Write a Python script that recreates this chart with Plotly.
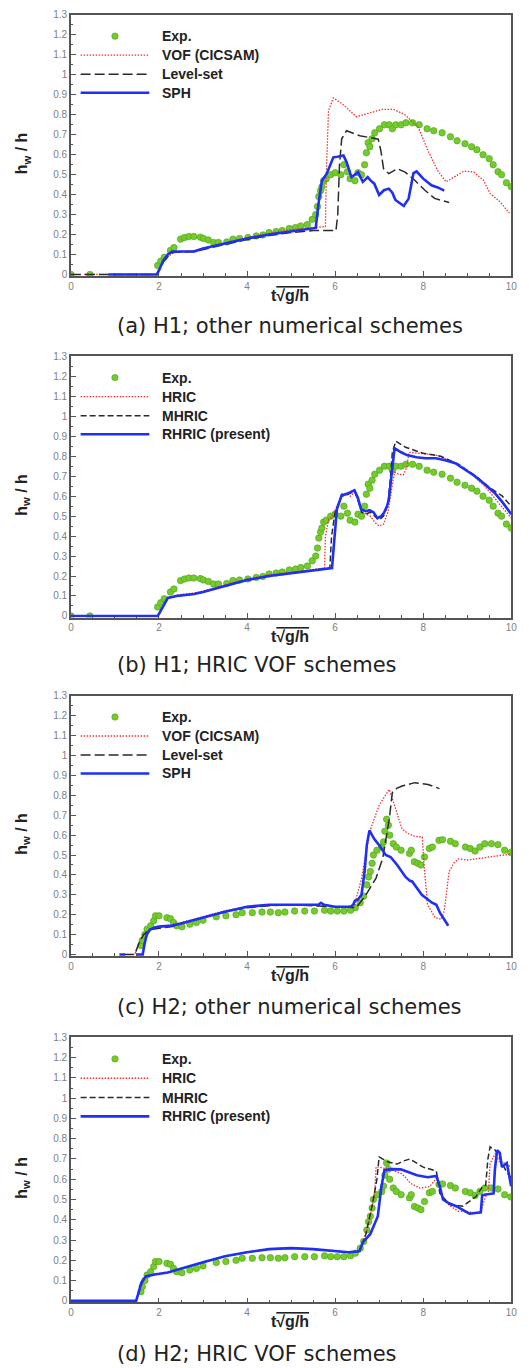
import plotly.graph_objects as go

# ---- experiment (H1 / H2) ----
t_exp_h1 = [0.0, 0.43, 1.97, 2.04, 2.12, 2.26, 2.34, 2.49, 2.58, 2.68, 2.79, 2.94, 3.01, 3.12, 3.24, 3.35,
            3.54, 3.68, 3.83, 4.02, 4.21, 4.36, 4.5, 4.66, 4.8, 4.96, 5.1, 5.22, 5.37, 5.48, 5.56, 5.6,
            5.63, 5.67, 5.7, 5.74, 5.8, 5.9, 6.0, 6.13, 6.2, 6.28, 6.34, 6.45, 6.52, 6.6, 6.67, 6.71,
            6.75, 6.79, 6.84, 6.9, 7.01, 7.12, 7.23, 7.3, 7.38, 7.5, 7.61, 7.76, 7.91, 8.09, 8.24, 8.43,
            8.62, 8.77, 8.95, 9.1, 9.22, 9.36, 9.5, 9.59, 9.7, 9.78, 9.89, 10.0]
h_exp_h1 = [0.0, 0.0, 0.045, 0.066, 0.086, 0.12, 0.135, 0.177, 0.185, 0.19, 0.19, 0.187, 0.18, 0.173, 0.16, 0.16,
            0.163, 0.177, 0.18, 0.185, 0.193, 0.198, 0.21, 0.215, 0.22, 0.23, 0.235, 0.243, 0.25, 0.276, 0.3, 0.34,
            0.39, 0.42, 0.44, 0.47, 0.48, 0.5, 0.51, 0.5, 0.55, 0.515, 0.48, 0.47, 0.51, 0.5, 0.55, 0.61,
            0.66, 0.64, 0.68, 0.71, 0.73, 0.75, 0.75, 0.73, 0.75, 0.75, 0.76, 0.76, 0.75, 0.73, 0.72, 0.71,
            0.69, 0.67, 0.655, 0.64, 0.625, 0.6, 0.58, 0.55, 0.515, 0.5, 0.46, 0.44]

t_exp_h2 = [1.59, 1.62, 1.68, 1.73, 1.81, 1.88, 1.92, 2.0, 2.18, 2.26, 2.33, 2.4, 2.52, 2.7, 2.85, 3.0,
            3.3, 3.52, 3.75, 3.89, 4.12, 4.34, 4.53, 4.71, 4.86, 5.08, 5.31, 5.53, 5.76, 5.9, 6.05, 6.2,
            6.35, 6.46, 6.57, 6.65, 6.72, 6.76, 6.8, 6.84, 6.87, 6.95, 7.06, 7.1, 7.13, 7.17, 7.21, 7.24,
            7.32, 7.39, 7.5, 7.69, 7.73, 7.8, 7.88, 7.95, 8.03, 8.14, 8.21, 8.36, 8.44, 8.62, 8.73, 8.96,
            9.07, 9.18, 9.29, 9.4, 9.55, 9.7, 9.85, 9.99]
h_exp_h2 = [0.045, 0.07, 0.1, 0.127, 0.144, 0.169, 0.194, 0.194, 0.185, 0.18, 0.16, 0.144, 0.139, 0.152, 0.16, 0.172,
            0.189, 0.194, 0.2, 0.21, 0.21, 0.213, 0.213, 0.21, 0.213, 0.218, 0.218, 0.218, 0.222, 0.218, 0.218, 0.218,
            0.222, 0.235, 0.26, 0.293, 0.35, 0.39, 0.417, 0.458, 0.5, 0.524, 0.54, 0.566, 0.62, 0.68, 0.65, 0.6,
            0.557, 0.54, 0.524, 0.508, 0.524, 0.466, 0.458, 0.45, 0.49, 0.533, 0.54, 0.574, 0.577, 0.569, 0.557, 0.54,
            0.533, 0.52, 0.54, 0.557, 0.557, 0.552, 0.524, 0.513]

# ---- (a) H1, other schemes ----
t_vof_a = [0.3, 1.95, 2.05, 2.2, 2.35, 2.8, 3.5, 4.0, 4.5, 5.0, 5.5, 5.78, 5.8, 5.85, 5.96, 6.19,
           6.48, 6.78, 7.07, 7.33, 7.59, 7.89, 8.11, 8.33, 8.52, 8.7, 8.93, 9.15, 9.37, 9.52, 9.74, 9.96]
h_vof_a = [0, 0, 0.05, 0.09, 0.11, 0.12, 0.158, 0.185, 0.205, 0.225, 0.235, 0.24, 0.5, 0.82, 0.885, 0.85,
           0.79, 0.81, 0.827, 0.827, 0.80, 0.736, 0.62, 0.52, 0.464, 0.488, 0.518, 0.513, 0.472, 0.406, 0.365, 0.307]
t_ls_a = [0.0, 1.95, 2.05, 2.2, 2.3, 2.8, 3.5, 4.0, 4.5, 5.0, 5.5, 6.02, 6.06, 6.1, 6.15, 6.26,
          6.56, 6.81, 6.98, 7.04, 7.1, 7.22, 7.41, 7.59, 7.81, 8.04, 8.26, 8.59]
h_ls_a = [0, 0, 0.05, 0.09, 0.11, 0.115, 0.15, 0.175, 0.195, 0.21, 0.22, 0.22, 0.3, 0.55, 0.68, 0.72,
          0.695, 0.686, 0.678, 0.62, 0.53, 0.505, 0.53, 0.513, 0.472, 0.422, 0.381, 0.361]
t_sph_a = [0.85, 1.95, 2.0, 2.1, 2.2, 2.3, 2.5, 2.8, 3.0, 3.5, 4.0, 4.5, 5.0, 5.3, 5.56, 5.62,
           5.7, 5.81, 5.96, 6.05, 6.19, 6.26, 6.37, 6.45, 6.52, 6.63, 6.74, 6.81, 6.89, 7.0, 7.11, 7.22,
           7.3, 7.37, 7.46, 7.56, 7.67, 7.78, 7.85, 8.0, 8.19, 8.33, 8.48]
h_sph_a = [0, 0, 0.02, 0.07, 0.1, 0.115, 0.115, 0.115, 0.13, 0.155, 0.18, 0.2, 0.215, 0.225, 0.233, 0.35,
           0.47, 0.505, 0.587, 0.59, 0.596, 0.563, 0.488, 0.5, 0.513, 0.464, 0.488, 0.47, 0.455, 0.398, 0.422, 0.43,
           0.41, 0.373, 0.36, 0.343, 0.38, 0.508, 0.516, 0.48, 0.447, 0.436, 0.42]

# ---- (b) H1, HRIC schemes ----
t_hric_b = [0.0, 1.97, 2.0, 2.1, 2.2, 2.4, 2.8, 3.0, 3.5, 4.0, 4.5, 5.0, 5.5, 5.76, 5.78, 5.85,
            5.95, 6.05, 6.15, 6.25, 6.35, 6.44, 6.52, 6.6, 6.7, 6.8, 6.9, 7.0, 7.1, 7.2, 7.28, 7.35,
            7.45, 7.55, 7.62, 7.68, 7.9, 8.3, 8.7, 9.0, 9.4, 9.7, 10.0]
h_hric_b = [0, 0, 0.01, 0.05, 0.09, 0.105, 0.115, 0.125, 0.155, 0.185, 0.205, 0.22, 0.235, 0.24, 0.4, 0.48,
            0.5, 0.56, 0.61, 0.615, 0.6, 0.62, 0.58, 0.53, 0.51, 0.5, 0.47, 0.45, 0.46, 0.52, 0.62, 0.72,
            0.71, 0.707, 0.74, 0.82, 0.815, 0.805, 0.77, 0.73, 0.65, 0.57, 0.49]
t_mhric_b = [0.0, 1.97, 2.0, 2.1, 2.2, 2.4, 2.8, 3.0, 3.5, 4.0, 4.5, 5.0, 5.5, 5.88, 5.92, 6.0,
             6.15, 6.25, 6.35, 6.44, 6.52, 6.6, 6.7, 6.8, 6.9, 7.0, 7.1, 7.2, 7.26, 7.3, 7.38, 7.6,
             8.0, 8.4, 8.8, 9.2, 9.5, 9.8, 10.0]
h_mhric_b = [0, 0, 0.01, 0.05, 0.09, 0.1, 0.11, 0.12, 0.15, 0.18, 0.2, 0.215, 0.23, 0.24, 0.4, 0.52,
             0.6, 0.605, 0.615, 0.625, 0.58, 0.52, 0.51, 0.52, 0.5, 0.48, 0.5, 0.56, 0.7, 0.82, 0.875, 0.845,
             0.815, 0.8, 0.76, 0.7, 0.645, 0.6, 0.55]
t_rhric_b = [0.0, 1.97, 2.0, 2.1, 2.2, 2.4, 2.8, 3.0, 3.5, 4.0, 4.5, 5.0, 5.5, 5.93, 5.97, 6.04,
             6.15, 6.25, 6.35, 6.44, 6.52, 6.59, 6.7, 6.78, 6.87, 6.96, 7.05, 7.11, 7.18, 7.22, 7.26, 7.29,
             7.35, 7.5, 7.63, 7.85, 8.05, 8.29, 8.5, 8.73, 8.95, 9.18, 9.4, 9.62, 9.8, 10.0]
h_rhric_b = [0, 0, 0.01, 0.05, 0.09, 0.1, 0.11, 0.12, 0.15, 0.18, 0.2, 0.215, 0.23, 0.24, 0.35, 0.534,
             0.605, 0.61, 0.62, 0.63, 0.59, 0.534, 0.525, 0.53, 0.52, 0.49, 0.5, 0.517, 0.55, 0.583, 0.66, 0.73,
             0.84, 0.82, 0.806, 0.795, 0.79, 0.79, 0.78, 0.765, 0.735, 0.70, 0.66, 0.617, 0.57, 0.51]

# ---- (c) H2, other schemes ----
t_vof_c = [1.2, 1.45, 1.55, 1.65, 1.8, 2.0, 2.3, 2.5, 3.0, 3.5, 4.0, 4.5, 5.0, 5.5, 6.0, 6.3,
           6.45, 6.5, 6.6, 6.78, 7.0, 7.23, 7.35, 7.52, 7.67, 7.8, 7.98, 8.02, 8.1, 8.27, 8.41, 8.48,
           8.59, 8.7, 8.8, 9.01, 9.5, 10.0]
h_vof_c = [0, 0, 0.06, 0.1, 0.13, 0.135, 0.145, 0.16, 0.19, 0.22, 0.24, 0.25, 0.25, 0.25, 0.24, 0.24,
           0.25, 0.3, 0.38, 0.615, 0.75, 0.83, 0.75, 0.63, 0.607, 0.595, 0.59, 0.45, 0.25, 0.185, 0.177, 0.22,
           0.417, 0.46, 0.48, 0.475, 0.49, 0.505]
t_ls_c = [1.2, 1.45, 1.55, 1.65, 1.8, 2.0, 2.3, 2.5, 3.0, 3.5, 4.0, 4.5, 5.0, 5.5, 6.0, 6.3,
          6.48, 6.6, 6.7, 6.93, 7.08, 7.23, 7.3, 7.4, 7.52, 7.81, 8.11, 8.37]
h_ls_c = [0, 0, 0.06, 0.1, 0.125, 0.13, 0.14, 0.155, 0.185, 0.215, 0.235, 0.245, 0.25, 0.245, 0.24, 0.235,
          0.235, 0.27, 0.30, 0.384, 0.483, 0.68, 0.814, 0.835, 0.847, 0.864, 0.855, 0.834]
t_sph_c = [1.1, 1.23, None, 1.5, 1.63, 1.67, 1.72, 1.8, 1.9, 2.0, 2.3, 2.5, 3.0, 3.5, 4.0, 4.5,
           5.0, 5.5, 5.62, 5.68, 5.75, 6.0, 6.35, 6.41, 6.45, 6.52, 6.6, 6.67, 6.72, 6.78, 6.89, 7.0,
           7.15, 7.26, 7.41, 7.6, 7.7, 7.75, 7.97, 8.2, 8.3, 8.38, 8.48, 8.57]
h_sph_c = [0, 0, None, 0, 0, 0.05, 0.1, 0.125, 0.135, 0.14, 0.145, 0.155, 0.185, 0.215, 0.24, 0.25,
           0.25, 0.25, 0.25, 0.26, 0.25, 0.24, 0.24, 0.25, 0.27, 0.276, 0.30, 0.417, 0.55, 0.624, 0.58, 0.55,
           0.50, 0.49, 0.45, 0.39, 0.37, 0.367, 0.30, 0.26, 0.25, 0.21, 0.177, 0.144]

# ---- (d) H2, HRIC schemes ----
t_hric_d = [0.0, 1.48, 1.55, 1.62, 1.7, 1.9, 2.2, 2.5, 3.0, 3.5, 4.0, 4.5, 5.0, 5.5, 6.0, 6.3,
            6.55, 6.7, 6.8, 6.9, 6.93, 7.0, 7.12, 7.3, 7.49, 7.6, 7.71, 7.93, 8.15, 8.33, 8.38, 8.45,
            8.6, 8.8, 9.0, 9.2, 9.3, 9.35, 9.42, 9.48, 9.52, 9.64, 9.75, 9.85, 10.0]
h_hric_d = [0, 0, 0.05, 0.09, 0.12, 0.13, 0.14, 0.16, 0.19, 0.22, 0.24, 0.255, 0.26, 0.255, 0.245, 0.24,
            0.245, 0.33, 0.42, 0.53, 0.66, 0.66, 0.654, 0.645, 0.63, 0.61, 0.58, 0.556, 0.564, 0.613, 0.56, 0.5,
            0.47, 0.442, 0.44, 0.434, 0.437, 0.47, 0.515, 0.53, 0.678, 0.727, 0.678, 0.68, 0.66]
t_mhric_d = [0.0, 1.48, 1.55, 1.62, 1.7, 1.9, 2.2, 2.5, 3.0, 3.5, 4.0, 4.5, 5.0, 5.5, 6.0, 6.3,
             6.55, 6.7, 6.85, 6.95, 7.0, 7.19, 7.41, 7.55, 7.7, 8.0, 8.3, 8.38, 8.6, 8.9, 9.2, 9.35,
             9.42, 9.47, 9.52, 9.64, 9.75, 9.87, 10.0]
h_mhric_d = [0, 0, 0.05, 0.09, 0.12, 0.13, 0.14, 0.16, 0.19, 0.22, 0.24, 0.255, 0.26, 0.255, 0.245, 0.24,
             0.245, 0.33, 0.48, 0.6, 0.71, 0.686, 0.675, 0.69, 0.70, 0.66, 0.64, 0.53, 0.475, 0.467, 0.515, 0.564,
             0.57, 0.7, 0.76, 0.743, 0.7, 0.646, 0.605]
t_rhric_d = [0.0, 1.48, 1.55, 1.6, 1.7, 1.9, 2.2, 2.5, 3.0, 3.5, 4.0, 4.5, 5.0, 5.5, 6.0, 6.3,
             6.55, 6.6, 6.63, 6.8, 6.97, 7.05, 7.12, 7.3, 7.49, 7.86, 8.1, 8.3, 8.38, 8.45, 8.6, 8.75,
             9.05, 9.31, 9.34, 9.42, 9.6, 9.63, 9.68, 9.74, 9.79, 9.9, 10.0]
h_rhric_d = [0, 0, 0.05, 0.09, 0.12, 0.13, 0.14, 0.16, 0.19, 0.22, 0.24, 0.255, 0.26, 0.255, 0.245, 0.24,
             0.245, 0.27, 0.288, 0.33, 0.418, 0.56, 0.645, 0.65, 0.649, 0.62, 0.61, 0.616, 0.564, 0.5, 0.48, 0.467,
             0.43, 0.437, 0.52, 0.525, 0.53, 0.65, 0.743, 0.73, 0.66, 0.68, 0.565]

# ticks / labels
x_ticks = [0, 2, 4, 6, 8, 10]
y_ticks = [0, 0.1, 0.2, 0.3, 0.4, 0.5, 0.6, 0.7, 0.8, 0.9, 1.0, 1.1, 1.2, 1.3]
y_ticklabels = ["0", "0.1", "0.2", "0.3", "0.4", "0.5", "0.6", "0.7", "0.8", "0.9", "1", "1.1", "1.2", "1.3"]

names_other = ["Exp.", "VOF (CICSAM)", "Level-set", "SPH"]
names_hric = ["Exp.", "HRIC", "MHRIC", "RHRIC (present)"]
captions = ["(a) H1; other numerical schemes", "(b) H1; HRIC VOF schemes",
            "(c) H2; other numerical schemes", "(d) H2; HRIC VOF schemes"]

# the page body keeps its default 8px margin, so the figure is offset by that much
OFF = 8
W, H = 529 - OFF, 1368 - OFF
# pixel positions
panel_px = [(9, 272), (353, 616), (695, 957), (1039, 1306)]
caption_px = [322, 664, 1008, 1358]
xtitle_px = [292, 635, 977, 1325]
x_left, x_right = 69, 517


def px_x(p):
    return (p - OFF) / W


def px_y(p):
    return 1 - (p - OFF) / H


RED = "#f03030"
BLACK = "#2a2a2a"
BLUE = "#1f2ff5"
GREEN = "#72cc2a"

panels = [
    (names_other, (t_exp_h1, h_exp_h1), [(t_vof_a, h_vof_a), (t_ls_a, h_ls_a), (t_sph_a, h_sph_a)], "10px,4px"),
    (names_hric, (t_exp_h1, h_exp_h1), [(t_hric_b, h_hric_b), (t_mhric_b, h_mhric_b), (t_rhric_b, h_rhric_b)], "6px,3px"),
    (names_other, (t_exp_h2, h_exp_h2), [(t_vof_c, h_vof_c), (t_ls_c, h_ls_c), (t_sph_c, h_sph_c)], "10px,4px"),
    (names_hric, (t_exp_h2, h_exp_h2), [(t_hric_d, h_hric_d), (t_mhric_d, h_mhric_d), (t_rhric_d, h_rhric_d)], "6px,3px"),
]

fig = go.Figure()
shapes = []
annotations = []
legend_rows = [0.919, 0.846, 0.773, 0.702]

for i, (names, exp, lines, black_dash) in enumerate(panels):
    n = "" if i == 0 else str(i + 1)
    xr, yr = "x" + n, "y" + n
    line_styles = [dict(color=RED, width=1.3, dash="1.5px,1.5px"),
                   dict(color=BLACK, width=1.5, dash=black_dash),
                   dict(color=BLUE, width=2.6, dash="solid")]
    for tt, hh in lines:
        assert len(tt) == len(hh)
    assert len(exp[0]) == len(exp[1])

    fig.add_trace(go.Scatter(x=exp[0], y=exp[1], mode="markers", xaxis=xr, yaxis=yr,
                             marker=dict(color=GREEN, size=6.5, line=dict(color="#52a01e", width=0.6)),
                             showlegend=False, name=names[0]))
    for (tt, hh), st, nm in zip(lines, line_styles, names[1:]):
        fig.add_trace(go.Scatter(x=tt, y=hh, mode="lines", xaxis=xr, yaxis=yr, line=st,
                                 connectgaps=False, showlegend=False, name=nm))

    top, bot = panel_px[i]
    axis_common = dict(ticks="inside", ticklen=5, tickwidth=1, tickcolor="#555",
                       showline=True, linecolor="#555", linewidth=1.5, mirror=True,
                       showgrid=False, zeroline=False, layer="below traces",
                       tickfont=dict(family="Arial", size=10, color="#808080"))
    fig.layout["xaxis" + n] = dict(
        domain=[px_x(x_left), px_x(x_right)], anchor=yr, range=[0, 10], tickvals=x_ticks,
        minor=dict(dtick=0.5, ticks="inside", ticklen=3, tickcolor="#555"), **axis_common)
    fig.layout["yaxis" + n] = dict(
        domain=[px_y(bot), px_y(top)], anchor=xr, range=[-0.008, 1.3],
        tickvals=y_ticks, ticktext=y_ticklabels,
        minor=dict(dtick=0.05, ticks="inside", ticklen=2.5, tickcolor="#555"), **axis_common)

    # legend drawn inside the plot area
    xd, yd = xr + " domain", yr + " domain"
    shapes.append(dict(type="circle", xref=xd, yref=yd, xsizemode="pixel", ysizemode="pixel",
                       xanchor=0.1, yanchor=legend_rows[0], x0=-3.2, x1=3.2, y0=-3.2, y1=3.2,
                       fillcolor=GREEN, line=dict(color="#52a01e", width=0.6)))
    for row, st in zip(legend_rows[1:], line_styles):
        shapes.append(dict(type="line", xref=xd, yref=yd, x0=0.022, x1=0.178, y0=row, y1=row,
                           line=dict(st)))
    for row, nm in zip(legend_rows, names):
        annotations.append(dict(xref=xd, yref=yd, x=0.203, y=row, text="<b>" + nm + "</b>",
                                showarrow=False, xanchor="left", yanchor="middle",
                                font=dict(family="Arial", size=14, color="#222")))

    # axis titles
    annotations.append(dict(xref="paper", yref="paper", x=px_x(292), y=px_y(xtitle_px[i]),
                            text="<b>t<span style='text-decoration:overline'>√g/h</span></b>",
                            showarrow=False, xanchor="center", yanchor="middle",
                            font=dict(family="Arial", size=16, color="#222")))
    annotations.append(dict(xref="paper", yref="paper", x=px_x(20), y=px_y((top + bot) / 2 + 8),
                            text="<b>h<sub>w</sub> / h</b>", textangle=-90,
                            showarrow=False, xanchor="center", yanchor="middle",
                            font=dict(family="Arial", size=16, color="#222")))
    # caption
    annotations.append(dict(xref="paper", yref="paper", x=px_x(114), y=px_y(caption_px[i]),
                            text=captions[i], showarrow=False, xanchor="left", yanchor="middle",
                            font=dict(family="DejaVu Sans", size=21, color="#222")))

fig.update_layout(width=W, height=H, margin=dict(l=0, r=0, t=0, b=0),
                  paper_bgcolor="white", plot_bgcolor="white",
                  shapes=shapes, annotations=annotations, showlegend=False)

fig.write_html("out.html")
